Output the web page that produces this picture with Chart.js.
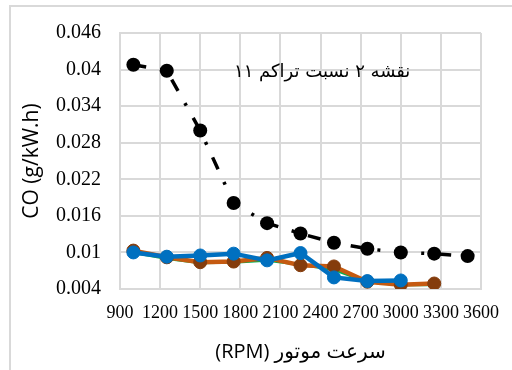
<!DOCTYPE html>
<html>
<head>
<meta charset="utf-8">
<script src="https://cdn.jsdelivr.net/npm/chart.js@4.4.1/dist/chart.umd.min.js"></script>
<style>
  html, body { margin: 0; padding: 0; background: #fff; overflow: hidden; }
  #wrap { width: 512px; height: 370px; position: relative; }
</style>
</head>
<body>
<div id="wrap"><canvas id="c" width="512" height="370"></canvas></div>
<script>
// Engine speed (RPM) for each measurement
const rpm = [1000, 1250, 1500, 1750, 2000, 2250, 2500, 2750, 3000, 3250, 3500];

// CO emission (g/kW.h) per series
const coBlack  = [0.0408, 0.0398, 0.0300, 0.0181, 0.0148, 0.0131, 0.0116, 0.0106, 0.0100, 0.0098, 0.0094];
const coGreen  = [0.0100, 0.0090, 0.0083, 0.0084, 0.0087, 0.0080, 0.0072, 0.0052, 0.0047, 0.0047];
const coOrange = [0.0103, 0.0092, 0.0084, 0.0085, 0.0091, 0.0079, 0.0077, 0.0052, 0.0047, 0.0049];
const coBlue   = [0.0100, 0.0093, 0.0095, 0.0098, 0.0087, 0.0099, 0.0059, 0.0053, 0.0054];

// Axis ticks
const xTicks = [900, 1200, 1500, 1800, 2100, 2400, 2700, 3000, 3300, 3600];
const xTickLabels = ['900', '1200', '1500', '1800', '2100', '2400', '2700', '3000', '3300', '3600'];
const yTicks = [0.004, 0.01, 0.016, 0.022, 0.028, 0.034, 0.04, 0.046];
const yTickLabels = ['0.004', '0.01', '0.016', '0.022', '0.028', '0.034', '0.04', '0.046'];

// Texts
const chartTitle = 'نقشه ۲ نسبت تراکم ۱۱';
const xTitle = 'سرعت موتور (RPM)';
const yTitle = 'CO (g/kW.h)';

const GRID = '#d9d9d9';

function points(values) {
  return values.map((v, i) => ({ x: rpm[i], y: v }));
}

// Outer frame and in-plot caption
const decor = {
  id: 'decor',
  beforeDraw(chart) {
    const ctx = chart.ctx;
    ctx.save();
    ctx.strokeStyle = GRID;
    ctx.lineWidth = 2;
    ctx.beginPath();
    ctx.moveTo(10, 370);
    ctx.lineTo(10, 6);
    ctx.lineTo(512, 6);
    ctx.stroke();
    ctx.restore();
  },
  afterDraw(chart) {
    const ctx = chart.ctx;
    const a = chart.chartArea;
    ctx.save();
    ctx.direction = 'rtl';
    ctx.font = '18px "DejaVu Sans"';
    ctx.fillStyle = '#000';
    ctx.textAlign = 'center';
    ctx.textBaseline = 'middle';
    ctx.fillText(chartTitle, a.left + 0.56 * (a.right - a.left), a.top + 39);
    ctx.restore();
  }
};

new Chart(document.getElementById('c'), {
  type: 'line',
  data: {
    datasets: [
      {
        data: points(coBlack),
        borderColor: '#000000',
        borderWidth: 3.5,
        borderDash: [13, 14, 3, 14],
        pointRadius: 7,
        pointBackgroundColor: '#000000',
        pointBorderWidth: 0,
        order: 0
      },
      {
        data: points(coGreen),
        borderColor: '#00B050',
        borderWidth: 3,
        pointRadius: 0,
        order: 3
      },
      {
        data: points(coOrange),
        borderColor: '#C55A11',
        borderWidth: 4.5,
        pointRadius: 6.5,
        pointBackgroundColor: '#843C0C',
        pointBorderColor: '#843C0C',
        pointBorderWidth: 1,
        order: 2
      },
      {
        data: points(coBlue),
        borderColor: '#0070C0',
        borderWidth: 4.5,
        pointRadius: 6.5,
        pointBackgroundColor: '#0070C0',
        pointBorderColor: '#0070C0',
        pointBorderWidth: 1,
        order: 1
      }
    ]
  },
  options: {
    responsive: false,
    animation: false,
    devicePixelRatio: 1,
    layout: { padding: { top: 33, right: 24, left: 0, bottom: 0 } },
    plugins: { legend: { display: false }, tooltip: { enabled: false } },
    elements: { line: { tension: 0, fill: false } },
    scales: {
      x: {
        type: 'linear',
        position: 'bottom',
        min: 900,
        max: 3600,
        afterBuildTicks: s => { s.ticks = xTicks.map(v => ({ value: v })); },
        afterFit: s => { s.height = 81; },
        grid: { color: GRID, lineWidth: 2, drawTicks: false },
        border: { display: true, color: GRID, width: 2 },
        ticks: {
          autoSkip: false,
          maxRotation: 0,
          padding: 13,
          color: '#000',
          font: { family: '"Liberation Serif"', size: 18 },
          callback: (v, i) => xTickLabels[i]
        },
        title: {
          display: true,
          text: '\u202B' + xTitle + '\u202C',
          color: '#000',
          font: { family: '"Open Sans", "DejaVu Sans"', size: 20 },
          padding: { top: 0, bottom: 6 }
        }
      },
      y: {
        type: 'linear',
        min: 0.004,
        max: 0.046,
        afterBuildTicks: s => { s.ticks = yTicks.map(v => ({ value: v })); },
        afterFit: s => { s.width = 120; },
        grid: { color: GRID, lineWidth: 2, drawTicks: false },
        border: { display: true, color: GRID, width: 2 },
        ticks: {
          padding: 19,
          color: '#000',
          font: { family: '"Liberation Serif"', size: 20 },
          callback: (v, i) => yTickLabels[i]
        },
        title: {
          display: true,
          text: yTitle,
          color: '#000',
          font: { family: '"Open Sans"', size: 21 },
          padding: { top: 19, bottom: 0 }
        }
      }
    }
  },
  plugins: [decor]
});
</script>
</body>
</html>
